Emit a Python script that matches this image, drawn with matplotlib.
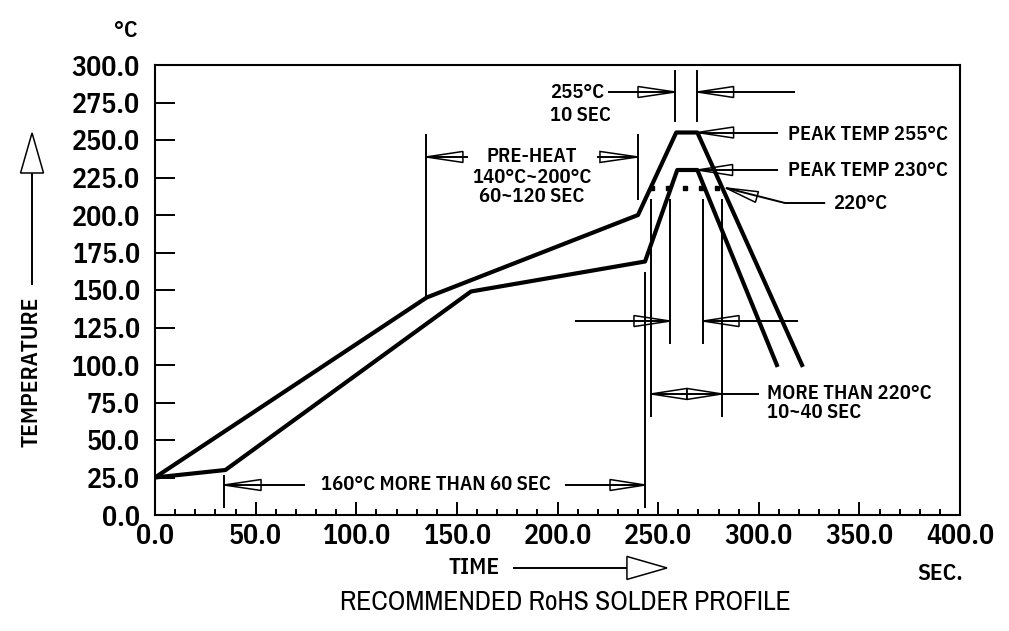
import numpy as np
import matplotlib
matplotlib.use("Agg")
import matplotlib.pyplot as plt
from matplotlib.patches import Polygon
from matplotlib import font_manager
from matplotlib.ticker import MultipleLocator, FormatStrFormatter

#profile data (time in sec, temp in deg C):
upper_time = [0, 135, 240, 259, 269.5, 321.5]
upper_temp = [25, 145, 200, 255, 255, 100]
lower_time = [0, 35, 157, 243.5, 259.5, 269.5, 309]
lower_temp = [25, 30, 149, 169, 230, 230, 100]

#dotted 220 C level:
dot_time = [247, 255, 263.5, 271.5, 279.5]
dot_temp = [218, 218, 218, 218, 218]

#axis ticks:
x_ticks = [0, 50, 100, 150, 200, 250, 300, 350, 400]
y_ticks = [0, 25, 50, 75, 100, 125, 150, 175, 200, 225, 250, 275, 300]

#pick fonts: narrow cad-like lettering if we have it
names = {f.name for f in font_manager.fontManager.ttflist}


def first_font(cands, default):
    for c in cands:
        if c in names:
            return c
    return default


cad = first_font(["IBM Plex Sans Condensed", "Roboto Condensed", "Open Sans Condensed"], "DejaVu Sans")
narrow = first_font(["Liberation Sans Narrow", "Arial Narrow", "Archivo Narrow", "PT Sans Narrow",
                     "Roboto Condensed", "IBM Plex Sans Condensed"], "Liberation Sans")
cad_weight = 600 if cad != "DejaVu Sans" else "normal"
plt.rcParams["font.family"] = [cad, "DejaVu Sans"]
plt.rcParams["font.weight"] = cad_weight

lw_thin = 1.4

fig = plt.figure(figsize=(10.09, 6.31), dpi=100)
ax = fig.add_axes([155/1009, 1 - 515/631, 805/1009, 450/631])
ax.set_xlim(0, 400)
ax.set_ylim(0, 300)
for s in ax.spines.values():
    s.set_linewidth(1.5)
renderer = fig.canvas.get_renderer()


def fitted_size(s, target, size=12, vertical=False, **kw):
    #font size that makes text s take target pixels
    t = fig.text(0, 0, s, fontsize=size, **kw)
    bb = t.get_window_extent(renderer)
    t.remove()
    return size * target / (bb.height if vertical else bb.width)


note_size = fitted_size("160°C MORE THAN 60 SEC", 228)
tick_size = fitted_size("300.0", 68)
title_size = fitted_size("TEMPERATURE", 150)
foot_size = fitted_size("RECOMMENDED RoHS SOLDER PROFILE", 450, family=narrow, weight="normal")

ax.plot(upper_time, upper_temp, color="black", lw=3)
ax.plot(lower_time, lower_temp, color="black", lw=3)
ax.plot(dot_time, dot_temp, ls="none", marker="s", ms=2.5, color="black")

#ticks:
ax.set_xticks(x_ticks)
ax.set_yticks(y_ticks)
ax.xaxis.set_minor_locator(MultipleLocator(10))
ax.xaxis.set_major_formatter(FormatStrFormatter("%.1f"))
ax.yaxis.set_major_formatter(FormatStrFormatter("%.1f"))
ax.tick_params(axis="x", which="major", direction="in", length=9.4, width=1.4, labelsize=tick_size, pad=6)
ax.tick_params(axis="x", which="minor", direction="in", length=4.3, width=1.4)
ax.tick_params(axis="y", direction="in", length=14.4, width=1.4, labelsize=tick_size, pad=11)


def dline(xs, ys):
    ax.plot(xs, ys, color="black", lw=lw_thin, clip_on=False, solid_capstyle="butt")


def head(tip, base, hw=5.5):
    #open arrow head, built in pixel space so it keeps its shape
    p_tip = ax.transData.transform(tip)
    p_base = ax.transData.transform(base)
    d = p_base - p_tip
    n = np.array([-d[1], d[0]]) / np.hypot(d[0], d[1])
    pts = np.array([p_tip, p_base + n * hw, p_base - n * hw])
    pts = ax.transData.inverted().transform(pts)
    ax.add_patch(Polygon(pts, closed=True, fill=False, lw=1.1, ec="black", clip_on=False))


def note(x, y, s, ha="left", size=None, **kw):
    ax.text(x, y, s, ha=ha, va="center", fontsize=size or note_size, clip_on=False, **kw)


#255 C / 10 SEC
dline([258.5, 258.5], [262, 297])
dline([269.5, 269.5], [262, 297])
dline([225, 258.5], [282, 282])
head((258.5, 282), (240, 282))
dline([269.5, 318], [282, 282])
head((269.5, 282), (287.5, 282))
note(196.3, 282, "255°C")
note(196.3, 266.5, "10 SEC")

#peak temps
dline([269.5, 309.6], [255, 255])
head((269.5, 255), (287.5, 255))
note(314.5, 254, "PEAK TEMP 255°C")
dline([269.5, 309.6], [230, 230])
head((269.5, 230), (287, 230))
note(314.5, 229.5, "PEAK TEMP 230°C")

#220 C
dline([283.7, 313, 333], [218, 208, 208])
head((283.7, 218), (299.1, 212))
note(336.9, 207.5, "220°C")

#pre-heat
dline([134.7, 134.7], [145, 254])
dline([240, 240], [210, 254])
dline([134.7, 155.5], [238.7, 238.7])
head((134.7, 238.7), (153, 238.7))
dline([219.6, 240], [238.7, 238.7])
head((240, 238.7), (221.1, 238.7))
note(187.3, 239.3, "PRE-HEAT", ha="center")
note(187.3, 225.3, "140°C~200°C", ha="center")
note(187.3, 212, "60~120 SEC", ha="center")

#time above 220 C
dline([246.5, 246.5], [65.3, 210.7])
dline([256, 256], [114, 210.7])
dline([272.3, 272.3], [114, 210.7])
dline([281.7, 281.7], [65.3, 210.7])
dline([208.7, 256], [129.3, 129.3])
head((256, 129.3), (238, 129.3))
dline([272.3, 319.5], [129.3, 129.3])
head((272.3, 129.3), (290.2, 129.3))
dline([246.5, 300.1], [80.7, 80.7])
head((246.5, 80.7), (264.3, 80.7))
head((281.7, 80.7), (264.3, 80.7))
note(304.1, 80.7, "MORE THAN 220°C")
note(304.1, 68, "10~40 SEC")

#160 C more than 60 sec
dline([34.3, 34.3], [4.7, 26.7])
dline([243.5, 243.5], [4.7, 162])
dline([34.3, 74.5], [20, 20])
head((34.3, 20), (52.7, 20))
dline([203.7, 243.5], [20, 20])
head((243.5, 20), (226.1, 20))
note(139.6, 20, "160°C MORE THAN 60 SEC", ha="center")

#axis titles:
note(-14.4, 323.3, "°C", ha="center", size=title_size)
note(-61.6, 95.3, "TEMPERATURE", ha="center", size=title_size, rotation=90)
dline([-61.1, -61.1], [153.3, 228])
head((-61.1, 254.7), (-61.1, 228), hw=11.5)
note(145.6, -35.3, "TIME", size=title_size)
dline([177.9, 234.5], [-35.3, -35.3])
head((254.4, -35.3), (234.5, -35.3), hw=11.5)
note(378.6, -38.7, "SEC.", size=title_size)

note(203.7, -58, "RECOMMENDED RoHS SOLDER PROFILE", ha="center", size=foot_size,
     family=narrow, weight="normal")

plt.savefig("out.png", dpi=100)
